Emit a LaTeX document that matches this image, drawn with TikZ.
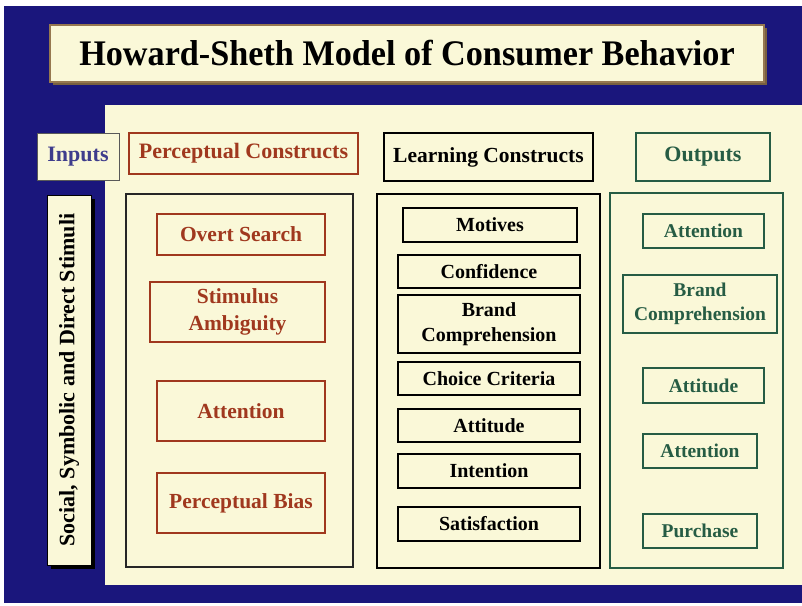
\documentclass[tikz,border=0pt]{standalone}
\usepackage{fontspec}
\setmainfont{Liberation Serif}
\definecolor{navy}{RGB}{26,22,124}
\definecolor{cream}{RGB}{250,248,216}
\definecolor{brownred}{RGB}{160,56,30}
\definecolor{dgreen}{RGB}{38,92,68}
\definecolor{inblue}{RGB}{62,60,140}
\definecolor{tshadow}{RGB}{150,120,80}
\tikzset{
  x=1pt, y=-1pt,
  box/.style={rectangle, inner sep=0pt, align=center, font=\bfseries},
  titlebox/.style={box, fill=cream, draw=tshadow, line width=1.5pt},
  inbox/.style={box, fill=cream, draw=gray!70!black, line width=1pt, text=inblue, font=\bfseries\fontsize{22}{26}\selectfont},
  stimbox/.style={box, fill=cream, draw=black, line width=1pt, font=\bfseries\fontsize{22}{26}\selectfont},
  phead/.style={box, draw=brownred, line width=1.2pt, text=brownred, font=\bfseries\fontsize{22}{26}\selectfont},
  pbig/.style={box, draw=black!85, line width=1.8pt},
  pitem/.style={box, draw=brownred, line width=1.2pt, text=brownred, font=\bfseries\fontsize{21.5}{27}\selectfont},
  lhead/.style={box, draw=black, line width=1.8pt, text=black, font=\bfseries\fontsize{21.5}{26}\selectfont},
  lbig/.style={box, draw=black, line width=1.8pt},
  litem/.style={box, draw=black, line width=2.2pt, text=black, font=\bfseries\fontsize{20}{25}\selectfont},
  ohead/.style={box, draw=dgreen, line width=1.2pt, text=dgreen, font=\bfseries\fontsize{22}{26}\selectfont},
  obig/.style={box, draw=dgreen, line width=1.4pt},
  oitem/.style={box, draw=dgreen, line width=1.2pt, text=dgreen, font=\bfseries\fontsize{19.5}{24}\selectfont},
}
\begin{document}
\begin{tikzpicture}
\useasboundingbox (0,0) rectangle (802,605);
\fill[white] (0,0) rectangle (802,605);
\fill[navy] (4,6) rectangle (802,603);
\fill[cream] (105,105) rectangle (802,585);

% title
\fill[tshadow!80!black] (53,28) rectangle (767,85);
\node[titlebox, minimum width=714, minimum height=57] (title) at (407,53.5)
  {\fontsize{36}{40}\selectfont\scalebox{0.95}[1]{Howard-Sheth Model of Consumer Behavior}};

% inputs
\node[inbox, minimum width=82, minimum height=47] (inputs) at (78,156.5) {Inputs};
\fill[black] (51,199) rectangle (95,569);
\node[stimbox, minimum width=44, minimum height=370] (stim) at (69,380)
  {\rotatebox{90}{Social, Symbolic and Direct Stimuli}};

% perceptual
\node[phead, minimum width=229, minimum height=41] (phead) at (243.5,153.5) {Perceptual Constructs};
\node[pbig, minimum width=227, minimum height=373] (pbig) at (239.5,380.5) {};
\node[pitem, minimum width=168, minimum height=41] (overt) at (241,234.5) {Overt Search};
\node[pitem, minimum width=175, minimum height=60] (stimamb) at (237.5,312) {Stimulus\\Ambiguity};
\node[pitem, minimum width=168, minimum height=60] (patt) at (241,411) {Attention};
\node[pitem, minimum width=168, minimum height=60] (pbias) at (241,503) {Perceptual Bias};

% learning
\node[lhead, minimum width=209, minimum height=48] (lhead) at (488.5,157) {Learning Constructs};
\node[lbig, minimum width=223, minimum height=374] (lbig) at (488.5,381) {};
\node[litem, minimum width=174, minimum height=34] (motives) at (490,225) {Motives};
\node[litem, minimum width=182, minimum height=33] (conf) at (489,271.5) {Confidence};
\node[litem, minimum width=182, minimum height=58] (lbrand) at (489,324) {Brand\\Comprehension};
\node[litem, minimum width=182, minimum height=33] (choice) at (489,378.5) {Choice Criteria};
\node[litem, minimum width=182, minimum height=33] (latt) at (489,425.5) {Attitude};
\node[litem, minimum width=182, minimum height=34] (intent) at (489,471) {Intention};
\node[litem, minimum width=182, minimum height=34] (satis) at (489,524) {Satisfaction};

% outputs
\node[ohead, minimum width=134, minimum height=48] (ohead) at (703,157) {Outputs};
\node[obig, minimum width=173, minimum height=375] (obig) at (696.5,380.5) {};
\node[oitem, minimum width=121, minimum height=34] (oatt1) at (703.5,231) {Attention};
\node[oitem, minimum width=154, minimum height=58] (obrand) at (700,304) {Brand\\Comprehension};
\node[oitem, minimum width=121, minimum height=35] (oattd) at (703.5,385.5) {Attitude};
\node[oitem, minimum width=114, minimum height=34] (oatt2) at (700,451) {Attention};
\node[oitem, minimum width=114, minimum height=34] (purch) at (700,531) {Purchase};
\end{tikzpicture}
\end{document}
